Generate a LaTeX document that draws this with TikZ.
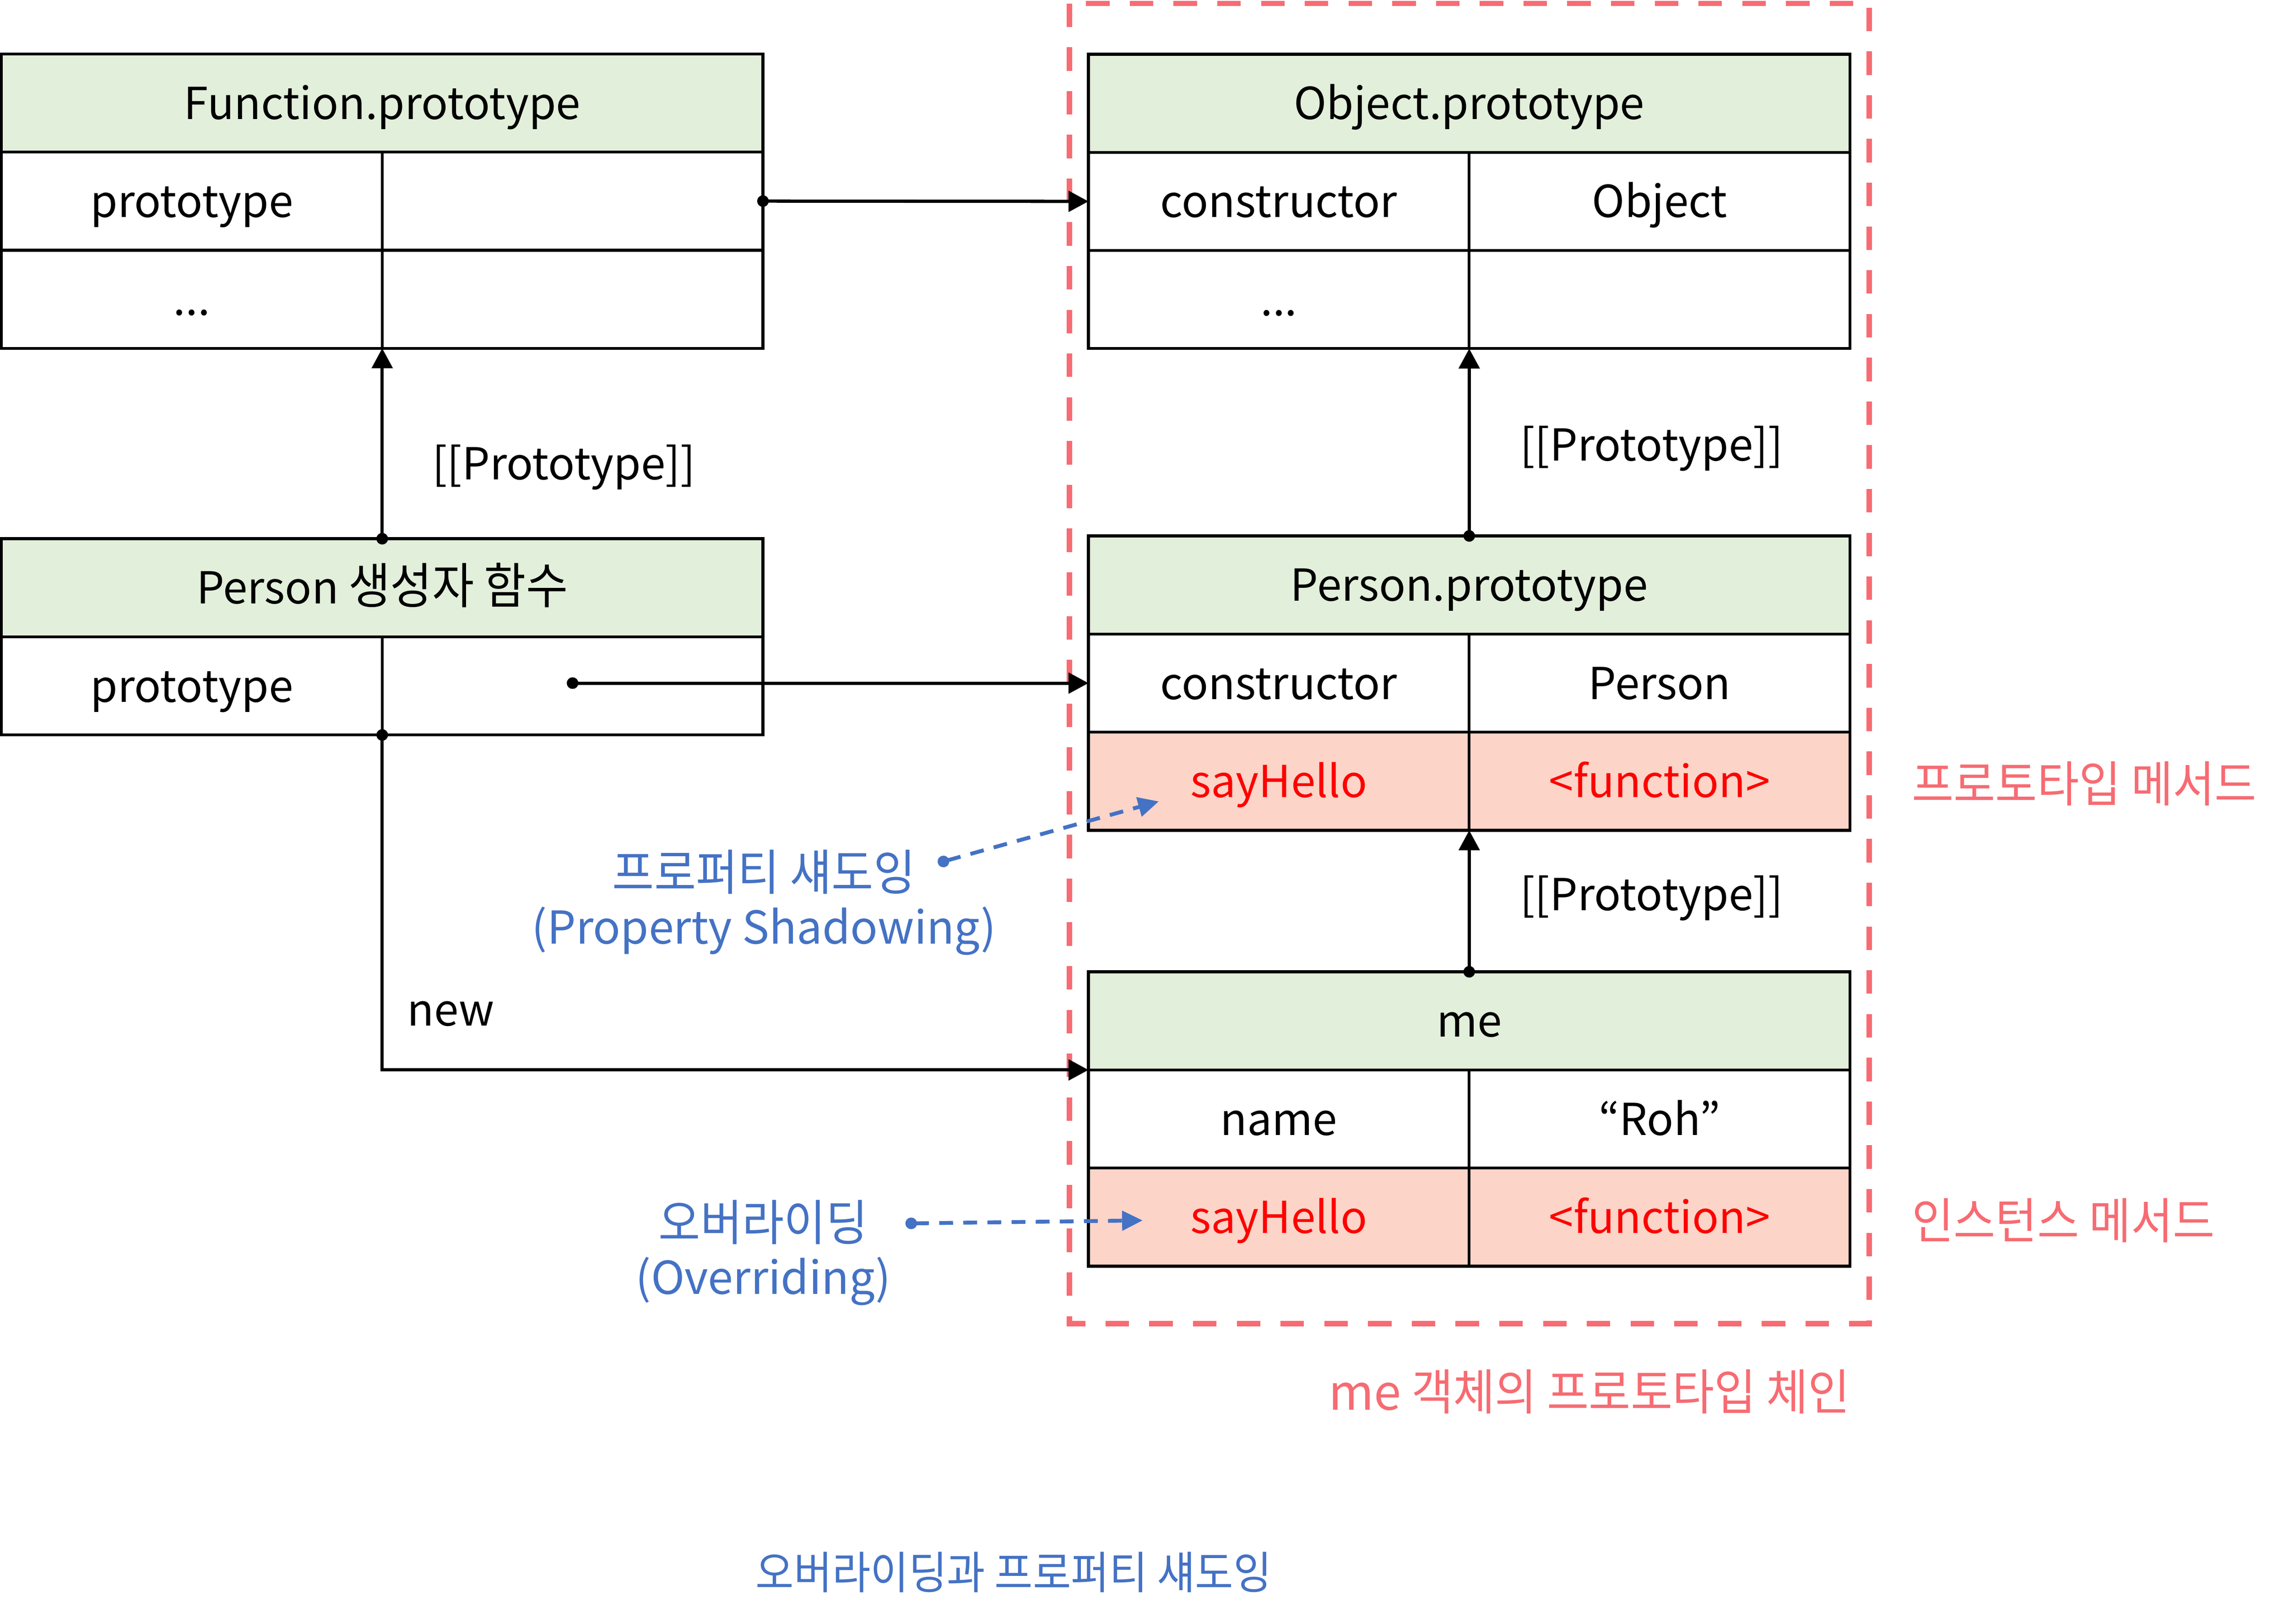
\documentclass[tikz,border=0pt]{standalone}
\usepackage{fontspec}
\setmainfont{Noto Sans CJK KR}
\newfontfamily\kr[FakeStretch=0.93]{Noto Sans CJK KR}
\usetikzlibrary{positioning,arrows.meta}

\definecolor{hdrgreen}{HTML}{E2EFDA}
\definecolor{mpink}{HTML}{FCD4C8}
\definecolor{chainred}{HTML}{F76B72}
\definecolor{noteblue}{HTML}{4472C4}

\newcommand\krtext{\kr\fontsize{15.2pt}{18pt}\selectfont}

\begin{document}
\begin{tikzpicture}[
		x=0.016cm, y=-0.016cm,
		every node/.style={outer sep=0pt},
		hdr/.style={draw, line width=0.9pt, fill=hdrgreen, minimum width=8.32cm, minimum height=1.072cm, inner sep=0pt, text height=10pt, text depth=0pt, font=\fontsize{13.7pt}{16pt}\selectfont},
		cell/.style={draw, line width=0.9pt, minimum width=4.16cm, minimum height=1.072cm, inner sep=0pt, text height=10pt, text depth=0pt, font=\fontsize{13.7pt}{16pt}\selectfont},
		mcell/.style={cell, fill=mpink, text=red},
		conn/.style={line width=1pt, {Circle[length=3.6pt]}-{Triangle[length=6.2pt,width=6.4pt]}, shorten <=-1.8pt},
		note/.style={noteblue, line width=1.2pt, dash pattern=on 4.3pt off 3.2pt, {Circle[length=3.6pt]}-{Triangle[length=6.4pt,width=6pt]}, shorten <=-1.8pt},
		lbl/.style={inner sep=0pt, font=\fontsize{13.7pt}{16pt}\selectfont},
		bluelbl/.style={inner sep=0pt, align=center, text=noteblue, font=\fontsize{14.1pt}{16.7pt}\selectfont},
		redlbl/.style={inner sep=0pt, text=chainred, font=\krtext}
		]
		\useasboundingbox (0,0) rectangle (1562.5,1108.4);

		% prototype chain of me
		\draw[chainred, line width=1.64pt, dash pattern=on 7.3pt off 6.3pt] (730,2.4) rectangle (1276,903.5);

		\node[hdr, anchor=north west] (fp) at (1,36.8) {Function.prototype};
		\node[cell, below right=0pt of fp.south west] (fp1k) {prototype};
		\node[cell, right=0pt of fp1k] (fp1v) {};
		\node[cell, below=0pt of fp1k] (fp2k) {...};
		\node[cell, right=0pt of fp2k] (fp2v) {};

		\node[hdr, anchor=north west] (op) at (743,37) {Object.prototype};
		\node[cell, below right=0pt of op.south west] (op1k) {constructor};
		\node[cell, right=0pt of op1k] (op1v) {Object};
		\node[cell, below=0pt of op1k] (op2k) {...};
		\node[cell, right=0pt of op2k] (op2v) {};

		\node[hdr, anchor=north west] (pc) at (1,367.7) {Person {\krtext 생성자 함수}};
		\node[cell, below right=0pt of pc.south west] (pc1k) {prototype};
		\node[cell, right=0pt of pc1k] (pc1v) {};

		\node[hdr, anchor=north west] (pp) at (743,365.8) {Person.prototype};
		\node[cell, below right=0pt of pp.south west] (pp1k) {constructor};
		\node[cell, right=0pt of pp1k] (pp1v) {Person};
		\node[mcell, below=0pt of pp1k] (pp2k) {sayHello};
		\node[mcell, right=0pt of pp2k] (pp2v) {<function>};

		\node[hdr, anchor=north west] (me) at (743,663.3) {me};
		\node[cell, below right=0pt of me.south west] (me1k) {name};
		\node[cell, right=0pt of me1k] (me1v) {“Roh”};
		\node[mcell, below=0pt of me1k] (me2k) {sayHello};
		\node[mcell, right=0pt of me2k] (me2v) {<function>};

		% links
		\draw[conn] (fp1v.east) -- (op1k.west);
		\draw[conn] (pc.north) -- (fp2k.south east);
		\draw[conn] (pc1v.center |- pp1k.west) -- (pp1k.west);
		\draw[conn] (pc1k.south east) |- (me.south west);
		\draw[conn] (pp.north) -- (op2k.south east);
		\draw[conn] (me.north) -- (pp2k.south east);

		\node[lbl, anchor=west] (newlbl) at (278,692) {new};
		\node[lbl, anchor=west] (fplink) at (295,319) {[[Prototype]]};
		\node[lbl, anchor=west] (oplink) at (1037.5,306) {[[Prototype]]};
		\node[lbl, anchor=west] (pplink) at (1037.5,613) {[[Prototype]]};

		% shadowing / overriding
		\node[bluelbl] (shadow) at (521.5,616) {{\krtext 프로퍼티 섀도잉}\\(Property Shadowing)};
		\node[bluelbl] (override) at (521,855) {{\krtext 오버라이딩}\\(Overriding)};
		\coordinate (shdot) at (644,588);
		\coordinate (shtip) at (791,547);
		\coordinate (ovdot) at (622,835);
		\coordinate (ovtip) at (780,833);
		\draw[note] (shdot) -- (shtip);
		\draw[note] (ovdot) -- (ovtip);

		\node[redlbl, anchor=west] (protomethod) at (1305,535) {프로토타입 메서드};
		\node[redlbl, anchor=west] (instmethod) at (1305,833) {인스턴스 메서드};
		\node[redlbl] (chainlbl) at (1085,950) {{\rmfamily me} 객체의 프로토타입 체인};

		\node[inner sep=0pt, text=noteblue, font=\kr\fontsize{13.9pt}{17pt}\selectfont] (caption) at (692,1073) {오버라이딩과 프로퍼티 섀도잉};
	\end{tikzpicture}
\end{document}
